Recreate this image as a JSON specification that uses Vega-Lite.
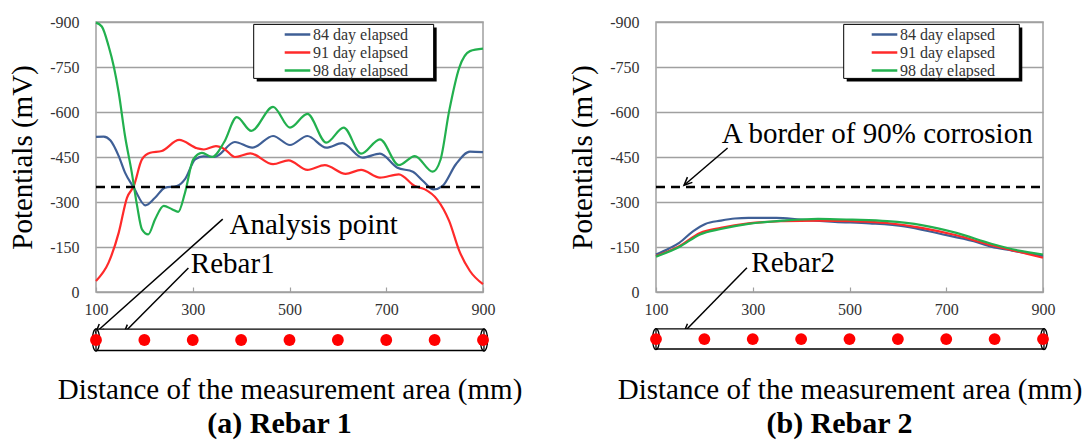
{
  "$schema": "https://vega.github.io/schema/vega-lite/v6.json",
  "background": "white",
  "padding": {"left": 7, "top": 13, "right": 0, "bottom": 5},
  "datasets": {
    "a_lines": [
      {"series": "84 day elapsed", "d": 100, "v": -517}, {"series": "84 day elapsed", "d": 116, "v": -518}, {"series": "84 day elapsed", "d": 130, "v": -505}, {"series": "84 day elapsed", "d": 147, "v": -453}, {"series": "84 day elapsed", "d": 160, "v": -398}, {"series": "84 day elapsed", "d": 178, "v": -348}, {"series": "84 day elapsed", "d": 202, "v": -289}, {"series": "84 day elapsed", "d": 222, "v": -314}, {"series": "84 day elapsed", "d": 243, "v": -348}, {"series": "84 day elapsed", "d": 267, "v": -353}, {"series": "84 day elapsed", "d": 284, "v": -376}, {"series": "84 day elapsed", "d": 305, "v": -442}, {"series": "84 day elapsed", "d": 322, "v": -452}, {"series": "84 day elapsed", "d": 345, "v": -450}, {"series": "84 day elapsed", "d": 387, "v": -500}, {"series": "84 day elapsed", "d": 423, "v": -481}, {"series": "84 day elapsed", "d": 466, "v": -520}, {"series": "84 day elapsed", "d": 501, "v": -490}, {"series": "84 day elapsed", "d": 537, "v": -520}, {"series": "84 day elapsed", "d": 576, "v": -481}, {"series": "84 day elapsed", "d": 609, "v": -496}, {"series": "84 day elapsed", "d": 651, "v": -448}, {"series": "84 day elapsed", "d": 687, "v": -461}, {"series": "84 day elapsed", "d": 723, "v": -414}, {"series": "84 day elapsed", "d": 755, "v": -401}, {"series": "84 day elapsed", "d": 776, "v": -370}, {"series": "84 day elapsed", "d": 798, "v": -342}, {"series": "84 day elapsed", "d": 816, "v": -353}, {"series": "84 day elapsed", "d": 844, "v": -426}, {"series": "84 day elapsed", "d": 873, "v": -468}, {"series": "84 day elapsed", "d": 900, "v": -466},
      {"series": "91 day elapsed", "d": 100, "v": -37}, {"series": "91 day elapsed", "d": 126, "v": -98}, {"series": "91 day elapsed", "d": 147, "v": -198}, {"series": "91 day elapsed", "d": 164, "v": -314}, {"series": "91 day elapsed", "d": 178, "v": -353}, {"series": "91 day elapsed", "d": 195, "v": -442}, {"series": "91 day elapsed", "d": 212, "v": -464}, {"series": "91 day elapsed", "d": 236, "v": -470}, {"series": "91 day elapsed", "d": 272, "v": -507}, {"series": "91 day elapsed", "d": 309, "v": -479}, {"series": "91 day elapsed", "d": 323, "v": -475}, {"series": "91 day elapsed", "d": 348, "v": -486}, {"series": "91 day elapsed", "d": 366, "v": -476}, {"series": "91 day elapsed", "d": 387, "v": -450}, {"series": "91 day elapsed", "d": 419, "v": -462}, {"series": "91 day elapsed", "d": 466, "v": -426}, {"series": "91 day elapsed", "d": 498, "v": -439}, {"series": "91 day elapsed", "d": 537, "v": -407}, {"series": "91 day elapsed", "d": 573, "v": -423}, {"series": "91 day elapsed", "d": 616, "v": -394}, {"series": "91 day elapsed", "d": 648, "v": -407}, {"series": "91 day elapsed", "d": 687, "v": -381}, {"series": "91 day elapsed", "d": 726, "v": -392}, {"series": "91 day elapsed", "d": 759, "v": -353}, {"series": "91 day elapsed", "d": 780, "v": -342}, {"series": "91 day elapsed", "d": 805, "v": -309}, {"series": "91 day elapsed", "d": 830, "v": -237}, {"series": "91 day elapsed", "d": 851, "v": -137}, {"series": "91 day elapsed", "d": 873, "v": -70}, {"series": "91 day elapsed", "d": 900, "v": -26},
      {"series": "98 day elapsed", "d": 100, "v": -898}, {"series": "98 day elapsed", "d": 112, "v": -885}, {"series": "98 day elapsed", "d": 126, "v": -820}, {"series": "98 day elapsed", "d": 137, "v": -750}, {"series": "98 day elapsed", "d": 147, "v": -664}, {"series": "98 day elapsed", "d": 160, "v": -520}, {"series": "98 day elapsed", "d": 174, "v": -398}, {"series": "98 day elapsed", "d": 185, "v": -287}, {"series": "98 day elapsed", "d": 195, "v": -209}, {"series": "98 day elapsed", "d": 208, "v": -192}, {"series": "98 day elapsed", "d": 222, "v": -242}, {"series": "98 day elapsed", "d": 240, "v": -287}, {"series": "98 day elapsed", "d": 257, "v": -276}, {"series": "98 day elapsed", "d": 270, "v": -267}, {"series": "98 day elapsed", "d": 284, "v": -331}, {"series": "98 day elapsed", "d": 301, "v": -442}, {"series": "98 day elapsed", "d": 319, "v": -464}, {"series": "98 day elapsed", "d": 340, "v": -450}, {"series": "98 day elapsed", "d": 365, "v": -500}, {"series": "98 day elapsed", "d": 391, "v": -583}, {"series": "98 day elapsed", "d": 421, "v": -537}, {"series": "98 day elapsed", "d": 466, "v": -617}, {"series": "98 day elapsed", "d": 501, "v": -548}, {"series": "98 day elapsed", "d": 537, "v": -594}, {"series": "98 day elapsed", "d": 576, "v": -498}, {"series": "98 day elapsed", "d": 612, "v": -548}, {"series": "98 day elapsed", "d": 648, "v": -461}, {"series": "98 day elapsed", "d": 687, "v": -509}, {"series": "98 day elapsed", "d": 726, "v": -423}, {"series": "98 day elapsed", "d": 759, "v": -453}, {"series": "98 day elapsed", "d": 796, "v": -401}, {"series": "98 day elapsed", "d": 812, "v": -440}, {"series": "98 day elapsed", "d": 830, "v": -603}, {"series": "98 day elapsed", "d": 851, "v": -748}, {"series": "98 day elapsed", "d": 873, "v": -803}, {"series": "98 day elapsed", "d": 900, "v": -811}
    ],
    "b_lines": [
      {"series": "84 day elapsed", "d": 100, "v": -125}, {"series": "84 day elapsed", "d": 127, "v": -145}, {"series": "84 day elapsed", "d": 148, "v": -164}, {"series": "84 day elapsed", "d": 177, "v": -203}, {"series": "84 day elapsed", "d": 202, "v": -227}, {"series": "84 day elapsed", "d": 234, "v": -238}, {"series": "84 day elapsed", "d": 263, "v": -245}, {"series": "84 day elapsed", "d": 291, "v": -247}, {"series": "84 day elapsed", "d": 349, "v": -247}, {"series": "84 day elapsed", "d": 399, "v": -241}, {"series": "84 day elapsed", "d": 470, "v": -234}, {"series": "84 day elapsed", "d": 542, "v": -229}, {"series": "84 day elapsed", "d": 614, "v": -219}, {"series": "84 day elapsed", "d": 685, "v": -195}, {"series": "84 day elapsed", "d": 757, "v": -169}, {"series": "84 day elapsed", "d": 793, "v": -151}, {"series": "84 day elapsed", "d": 836, "v": -138}, {"series": "84 day elapsed", "d": 900, "v": -120},
      {"series": "91 day elapsed", "d": 100, "v": -120}, {"series": "91 day elapsed", "d": 148, "v": -153}, {"series": "91 day elapsed", "d": 191, "v": -197}, {"series": "91 day elapsed", "d": 234, "v": -214}, {"series": "91 day elapsed", "d": 291, "v": -229}, {"series": "91 day elapsed", "d": 363, "v": -236}, {"series": "91 day elapsed", "d": 435, "v": -238}, {"series": "91 day elapsed", "d": 506, "v": -236}, {"series": "91 day elapsed", "d": 578, "v": -230}, {"series": "91 day elapsed", "d": 649, "v": -214}, {"series": "91 day elapsed", "d": 721, "v": -189}, {"series": "91 day elapsed", "d": 793, "v": -156}, {"series": "91 day elapsed", "d": 850, "v": -134}, {"series": "91 day elapsed", "d": 900, "v": -114},
      {"series": "98 day elapsed", "d": 100, "v": -118}, {"series": "98 day elapsed", "d": 148, "v": -150}, {"series": "98 day elapsed", "d": 191, "v": -192}, {"series": "98 day elapsed", "d": 234, "v": -210}, {"series": "98 day elapsed", "d": 291, "v": -227}, {"series": "98 day elapsed", "d": 363, "v": -238}, {"series": "98 day elapsed", "d": 435, "v": -244}, {"series": "98 day elapsed", "d": 506, "v": -241}, {"series": "98 day elapsed", "d": 578, "v": -236}, {"series": "98 day elapsed", "d": 649, "v": -223}, {"series": "98 day elapsed", "d": 721, "v": -197}, {"series": "98 day elapsed", "d": 793, "v": -161}, {"series": "98 day elapsed", "d": 850, "v": -138}, {"series": "98 day elapsed", "d": 900, "v": -125}
    ],
    "dash": [{"d": 100, "d2": 900, "v": -350}],
    "a_box": [{"d": 426, "d2": 798, "v": -892, "v2": -712}],
    "b_box": [{"d": 488, "d2": 851, "v": -892, "v2": -712}],
    "a_arrows": [{"d": 362, "v": -243, "d2": 100, "v2": 134}, {"d": 291, "v": -80, "d2": 158, "v2": 136}],
    "a_tips": [{"d": 100, "v": 134}, {"d": 158, "v": 136}],
    "b_arrows": [{"d": 248, "v": -480, "d2": 158, "v2": -356}, {"d": 288, "v": -81, "d2": 158, "v2": 133}],
    "b_tips": [{"d": 158, "v": -356}, {"d": 158, "v": 133}],
    "a_text": [{"d": 376, "v": -223, "text": "Analysis point"}, {"d": 296, "v": -93, "text": "Rebar1"}],
    "b_text": [{"d": 236, "v": -527, "text": "A border of 90% corrosion"}, {"d": 297, "v": -97, "text": "Rebar2"}],
    "a_cyl": [{"d": 100, "d2": 902, "v": 124, "v2": 195}],
    "b_cyl": [{"d": 100, "d2": 902, "v": 123, "v2": 190}],
    "a_ends": [{"d": 100, "v": 160}, {"d": 902, "v": 160}],
    "b_ends": [{"d": 100, "v": 157}, {"d": 902, "v": 157}],
    "a_dots": [{"d": 100, "v": 160}, {"d": 200, "v": 160}, {"d": 300, "v": 160}, {"d": 400, "v": 160}, {"d": 500, "v": 160}, {"d": 600, "v": 160}, {"d": 700, "v": 160}, {"d": 800, "v": 160}, {"d": 900, "v": 160}],
    "b_dots": [{"d": 100, "v": 157}, {"d": 200, "v": 157}, {"d": 300, "v": 157}, {"d": 400, "v": 157}, {"d": 500, "v": 157}, {"d": 600, "v": 157}, {"d": 700, "v": 157}, {"d": 800, "v": 157}, {"d": 900, "v": 157}]
  },
  "hconcat": [
    {
      "width": 387,
      "height": 270,
      "title": {"text": "(a) Rebar 1", "orient": "bottom", "anchor": "middle", "frame": "group", "dx": -10, "offset": 5, "font": "Liberation Serif", "fontSize": 30, "fontWeight": "bold", "color": "black"},
      "encoding": {
        "x": {"field": "d", "type": "quantitative", "scale": {"domain": [100, 900], "nice": false, "zero": false}, "axis": {"title": "Distance of the measurement area (mm)", "values": [100, 300, 500, 700, 900], "format": "d", "grid": false, "domain": false, "tickSize": -5, "tickColor": "#a0a0a0", "tickWidth": 1.2, "labelFlush": false, "labelPadding": 14, "titlePadding": 58}},
        "y": {"field": "v", "type": "quantitative", "scale": {"domain": [-900, 0], "nice": false, "zero": false, "reverse": true}, "axis": {"title": "Potentials (mV)", "values": [-900, -750, -600, -450, -300, -150, 0], "labelExpr": "datum.value < 0 ? '-' + abs(datum.value) : '0'", "grid": true, "gridColor": "#a0a0a0", "gridWidth": 1.5, "ticks": false, "domain": false, "labelPadding": 17, "titlePadding": 12}}
      },
      "layer": [
        {"data": {"name": "a_lines"}, "mark": {"type": "line", "strokeWidth": 2.2, "interpolate": "monotone"},
         "encoding": {"color": {"field": "series", "type": "nominal", "scale": {"domain": ["84 day elapsed", "91 day elapsed", "98 day elapsed"], "range": ["#3F5F96", "#FF2A2A", "#22B04E"]},
           "legend": {"orient": "none", "legendX": 192, "legendY": 3, "title": null, "symbolType": "M-1.6,0L1.6,0", "symbolSize": 256, "symbolStrokeWidth": 2.5, "labelFontSize": 16, "labelFont": "Liberation Serif", "labelColor": "#333333", "labelOffset": 6, "rowPadding": -2, "padding": 0}}}},
        {"data": {"name": "dash"}, "mark": {"type": "rule", "strokeDash": [9, 6], "strokeWidth": 2.5, "color": "black"}, "encoding": {"x2": {"field": "d2"}}},
        {"data": {"name": "a_box"}, "mark": {"type": "rect", "fill": "black", "xOffset": 3, "x2Offset": 3, "yOffset": 3, "y2Offset": 3}, "encoding": {"x2": {"field": "d2"}, "y2": {"field": "v2"}}},
        {"data": {"name": "a_box"}, "mark": {"type": "rect", "fill": "white", "stroke": "black", "strokeWidth": 1}, "encoding": {"x2": {"field": "d2"}, "y2": {"field": "v2"}}},
        {"data": {"name": "a_arrows"}, "mark": {"type": "rule", "color": "black", "strokeWidth": 1.5}, "encoding": {"x2": {"field": "d2"}, "y2": {"field": "v2"}}},
        {"data": {"name": "a_tips"}, "mark": {"type": "point", "shape": "M-1,-0.45L0,0L-1,0.45", "angle": 136, "size": 256, "filled": false, "stroke": "black", "strokeWidth": 1.5, "opacity": 1}},
        {"data": {"name": "a_text"}, "mark": {"type": "text", "align": "left", "baseline": "middle", "font": "Liberation Serif", "fontSize": 29, "color": "black"}, "encoding": {"text": {"field": "text"}}},
        {"data": {"name": "a_cyl"}, "mark": {"type": "rect", "fill": "white", "stroke": "black", "strokeWidth": 1.3}, "encoding": {"x2": {"field": "d2"}, "y2": {"field": "v2"}}},
        {"data": {"name": "a_ends"}, "mark": {"type": "point", "shape": "M0,-1A0.33,1 0 1,1 0,1A0.33,1 0 1,1 0,-1Z", "size": 484, "filled": false, "stroke": "black", "strokeWidth": 1.3, "opacity": 1}},
        {"data": {"name": "a_dots"}, "mark": {"type": "point", "shape": "circle", "size": 140, "filled": true, "color": "#FF0000", "opacity": 1}}
      ]
    },
    {
      "width": 387,
      "height": 270,
      "title": {"text": "(b) Rebar 2", "orient": "bottom", "anchor": "middle", "frame": "group", "dx": -10, "offset": 5, "font": "Liberation Serif", "fontSize": 30, "fontWeight": "bold", "color": "black"},
      "encoding": {
        "x": {"field": "d", "type": "quantitative", "scale": {"domain": [100, 900], "nice": false, "zero": false}, "axis": {"title": "Distance of the measurement area (mm)", "values": [100, 300, 500, 700, 900], "format": "d", "grid": false, "domain": false, "tickSize": -5, "tickColor": "#a0a0a0", "tickWidth": 1.2, "labelFlush": false, "labelPadding": 14, "titlePadding": 58}},
        "y": {"field": "v", "type": "quantitative", "scale": {"domain": [-900, 0], "nice": false, "zero": false, "reverse": true}, "axis": {"title": "Potentials (mV)", "values": [-900, -750, -600, -450, -300, -150, 0], "labelExpr": "datum.value < 0 ? '-' + abs(datum.value) : '0'", "grid": true, "gridColor": "#a0a0a0", "gridWidth": 1.5, "ticks": false, "domain": false, "labelPadding": 17, "titlePadding": 12}}
      },
      "layer": [
        {"data": {"name": "b_lines"}, "mark": {"type": "line", "strokeWidth": 2.2, "interpolate": "monotone"},
         "encoding": {"color": {"field": "series", "type": "nominal", "scale": {"domain": ["84 day elapsed", "91 day elapsed", "98 day elapsed"], "range": ["#3F5F96", "#FF2A2A", "#22B04E"]},
           "legend": {"orient": "none", "legendX": 219, "legendY": 3, "title": null, "symbolType": "M-1.6,0L1.6,0", "symbolSize": 256, "symbolStrokeWidth": 2.5, "labelFontSize": 16, "labelFont": "Liberation Serif", "labelColor": "#333333", "labelOffset": 6, "rowPadding": -2, "padding": 0}}}},
        {"data": {"name": "dash"}, "mark": {"type": "rule", "strokeDash": [9, 6], "strokeWidth": 2.5, "color": "black"}, "encoding": {"x2": {"field": "d2"}}},
        {"data": {"name": "b_box"}, "mark": {"type": "rect", "fill": "black", "xOffset": 3, "x2Offset": 3, "yOffset": 3, "y2Offset": 3}, "encoding": {"x2": {"field": "d2"}, "y2": {"field": "v2"}}},
        {"data": {"name": "b_box"}, "mark": {"type": "rect", "fill": "white", "stroke": "black", "strokeWidth": 1}, "encoding": {"x2": {"field": "d2"}, "y2": {"field": "v2"}}},
        {"data": {"name": "b_arrows"}, "mark": {"type": "rule", "color": "black", "strokeWidth": 1.5}, "encoding": {"x2": {"field": "d2"}, "y2": {"field": "v2"}}},
        {"data": {"name": "b_tips"}, "mark": {"type": "point", "shape": "M-1,-0.45L0,0L-1,0.45", "angle": 137, "size": 256, "filled": false, "stroke": "black", "strokeWidth": 1.5, "opacity": 1}},
        {"data": {"name": "b_text"}, "mark": {"type": "text", "align": "left", "baseline": "middle", "font": "Liberation Serif", "fontSize": 29, "color": "black"}, "encoding": {"text": {"field": "text"}}},
        {"data": {"name": "b_cyl"}, "mark": {"type": "rect", "fill": "white", "stroke": "black", "strokeWidth": 1.3}, "encoding": {"x2": {"field": "d2"}, "y2": {"field": "v2"}}},
        {"data": {"name": "b_ends"}, "mark": {"type": "point", "shape": "M0,-1A0.33,1 0 1,1 0,1A0.33,1 0 1,1 0,-1Z", "size": 441, "filled": false, "stroke": "black", "strokeWidth": 1.3, "opacity": 1}},
        {"data": {"name": "b_dots"}, "mark": {"type": "point", "shape": "circle", "size": 140, "filled": true, "color": "#FF0000", "opacity": 1}}
      ]
    }
  ],
  "spacing": 173,
  "bounds": "flush",
  "resolve": {"scale": {"color": "independent"}, "legend": {"color": "independent"}},
  "config": {
    "font": "Liberation Serif",
    "view": {"stroke": "#a0a0a0", "strokeWidth": 1.5},
    "axis": {"labelFont": "Liberation Serif", "titleFont": "Liberation Serif", "labelColor": "#333333", "titleColor": "#000000", "titleFontWeight": "normal", "labelFontSize": 16, "titleFontSize": 29}
  }
}
